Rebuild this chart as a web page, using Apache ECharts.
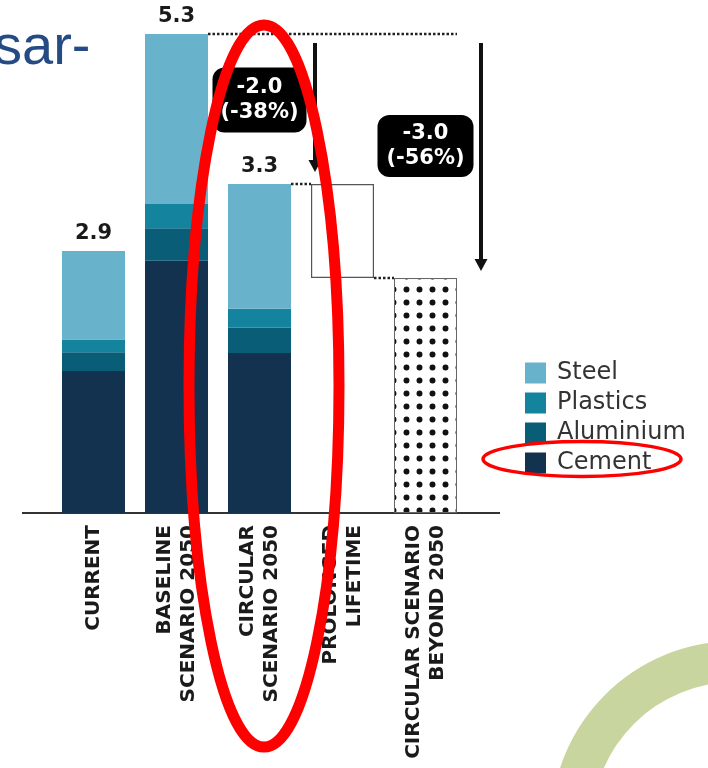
<!DOCTYPE html>
<html>
<head>
<meta charset="utf-8">
<script src="https://cdn.jsdelivr.net/npm/echarts/dist/echarts.min.js"></script>
<style>
  html, body { margin: 0; padding: 0; background: #fff; }
  #main { width: 708px; height: 768px; }
</style>
</head>
<body>
<div id="main"></div>
<script>
// data
var categories = ['CURRENT', 'BASELINE\nSCENARIO 2050', 'CIRCULAR\nSCENARIO 2050', 'PROLONGED\nLIFETIME', 'CIRCULAR SCENARIO\nBEYOND 2050'];
var cement = [1.57, 2.79, 1.77, '-', '-'];
var aluminium = [0.21, 0.36, 0.28, '-', '-'];
var plastics = [0.14, 0.27, 0.21, '-', '-'];
var steel = [0.98, 1.88, 1.38, '-', '-'];
var lifetimeBase = ['-', '-', '-', 2.6, '-'];
var lifetimeGain = ['-', '-', '-', 1.04, '-'];
var beyond = ['-', '-', '-', '-', 2.6];
var totalLabels = ['2.9', '5.3', '3.3', '', ''];
var legendNames = ['Steel', 'Plastics', 'Aluminium', 'Cement'];
var badge1 = '-2.0\n(-38%)';
var badge2 = '-3.0\n(-56%)';

var colors = { Steel: '#69b2cb', Plastics: '#13839e', Aluminium: '#0a5d77', Cement: '#12324f' };
var font = 'DejaVu Sans';
var barW = 63;

function part(name, data) {
    return {
        name: name, type: 'bar', stack: 'total', data: data, barWidth: barW,
        itemStyle: { color: colors[name] }
    };
}

var chart = echarts.init(document.getElementById('main'));

var option = {
    backgroundColor: '#fff',
    animation: false,
    grid: { left: 52, right: 241, top: 34, bottom: 255 },
    legend: {
        data: legendNames, orient: 'vertical', left: 520, top: 356,
        icon: 'rect', itemWidth: 21, itemHeight: 21, itemGap: 6,
        textStyle: { fontFamily: font, fontSize: 24, color: '#333', padding: [0, 0, 0, 6] }
    },
    xAxis: {
        type: 'category', data: categories,
        axisLine: { show: false }, axisTick: { show: false },
        axisLabel: {
            interval: 0, rotate: 90, margin: 12,
            fontFamily: font, fontWeight: 'bold', fontSize: 20, lineHeight: 24, color: '#1a1a1a'
        }
    },
    yAxis: { type: 'value', min: 0, max: 5.3, show: false },
    series: [
        part('Cement', cement),
        part('Aluminium', aluminium),
        part('Plastics', plastics),
        Object.assign(part('Steel', steel), {
            label: {
                show: true, position: 'top', distance: 7,
                fontFamily: font, fontWeight: 'bold', fontSize: 21, color: '#1a1a1a',
                formatter: function (p) { return totalLabels[p.dataIndex]; }
            }
        }),
        {
            name: 'gap', type: 'bar', stack: 'total', data: lifetimeBase, barWidth: barW,
            itemStyle: { color: 'rgba(0,0,0,0)' }
        },
        {
            name: 'Prolonged lifetime', type: 'bar', stack: 'total', data: lifetimeGain, barWidth: barW,
            itemStyle: { color: 'rgba(255,255,255,0)', borderColor: '#555', borderWidth: 1.2 }
        },
        {
            name: 'Beyond 2050', type: 'bar', stack: 'total', data: beyond, barWidth: barW,
            itemStyle: {
                color: '#fff', borderColor: '#666', borderWidth: 1,
                decal: {
                    symbol: 'circle', symbolSize: 0.85, color: '#111',
                    dashArrayX: [7, 6], dashArrayY: [7, 6], rotation: 0
                }
            }
        }
    ]
};
chart.setOption(option);

// annotation layer, placed from the chart's own scales
function px(i, v) { return chart.convertToPixel({ gridIndex: 0 }, [i, v]); }
function sum(i) { return [cement, aluminium, plastics, steel].reduce(function (s, a) { return s + (a[i] === '-' ? 0 : a[i]); }, 0); }

var half = barW / 2;
var xB = px(1, 0)[0], xC = px(2, 0)[0], xL = px(3, 0)[0], xE = px(4, 0)[0];
var yBase = px(1, sum(1))[1];
var yCirc = px(2, sum(2))[1];
var yBeyond = px(4, beyond[4])[1];
var yAxisLine = px(0, 0)[1];

function dotted(x1, x2, y) {
    return { type: 'line', shape: { x1: x1, y1: y, x2: x2, y2: y }, style: { stroke: '#222', lineWidth: 2.5, lineDash: [2.5, 2] } };
}
function arrow(x, y1, y2) {
    return [
        { type: 'line', shape: { x1: x, y1: y1, x2: x, y2: y2 - 8 }, style: { stroke: '#111', lineWidth: 4 } },
        { type: 'polygon', shape: { points: [[x - 6.5, y2 - 12], [x + 6.5, y2 - 12], [x, y2]] }, style: { fill: '#111' } }
    ];
}
function badge(cx, cy, w, h, text) {
    return [
        { type: 'rect', shape: { x: cx - w / 2, y: cy - h / 2, width: w, height: h, r: 12 }, style: { fill: '#000' } },
        {
            type: 'text', x: cx, y: cy,
            style: { text: text, fill: '#fff', font: 'bold 21px "DejaVu Sans"', lineHeight: 25, align: 'center', verticalAlign: 'middle' }
        }
    ];
}

var graphics = [
    { type: 'ring', shape: { cx: 735, cy: 825, r: 184, r0: 143 }, style: { fill: '#c9d59f' }, z: 0 },
    {
        type: 'text', x: -6, y: 49,
        style: { text: 'sar-', font: '56px "Liberation Sans"', fill: '#244b84', verticalAlign: 'middle' }
    },
    { type: 'line', shape: { x1: 22, y1: yAxisLine, x2: 500, y2: yAxisLine }, style: { stroke: '#333', lineWidth: 2 } },
    dotted(xB + half, xE + half, yBase),
    dotted(xC + half, xL - half, yCirc),
    dotted(xL + half, xE - half, yBeyond)
];
graphics = graphics
    .concat(arrow(xL - half + 4, yBase + 9, yCirc - 12))
    .concat(arrow(xE + half + 24, yBase + 9, yBeyond - 7))
    .concat(badge(xC, yBase + 66, 94, 65, badge1))
    .concat(badge(xE, yBase + 112, 96, 62, badge2));

// red highlight marks
graphics.push({ type: 'ellipse', shape: { cx: 264, cy: 386, rx: 75, ry: 361 }, style: { fill: 'none', stroke: '#ff0000', lineWidth: 11 }, z: 100 });
graphics.push({ type: 'ellipse', shape: { cx: 582, cy: 459, rx: 99, ry: 17.5 }, style: { fill: 'none', stroke: '#ff0000', lineWidth: 3.5 }, z: 100 });

chart.setOption({ graphic: graphics });
</script>
</body>
</html>
